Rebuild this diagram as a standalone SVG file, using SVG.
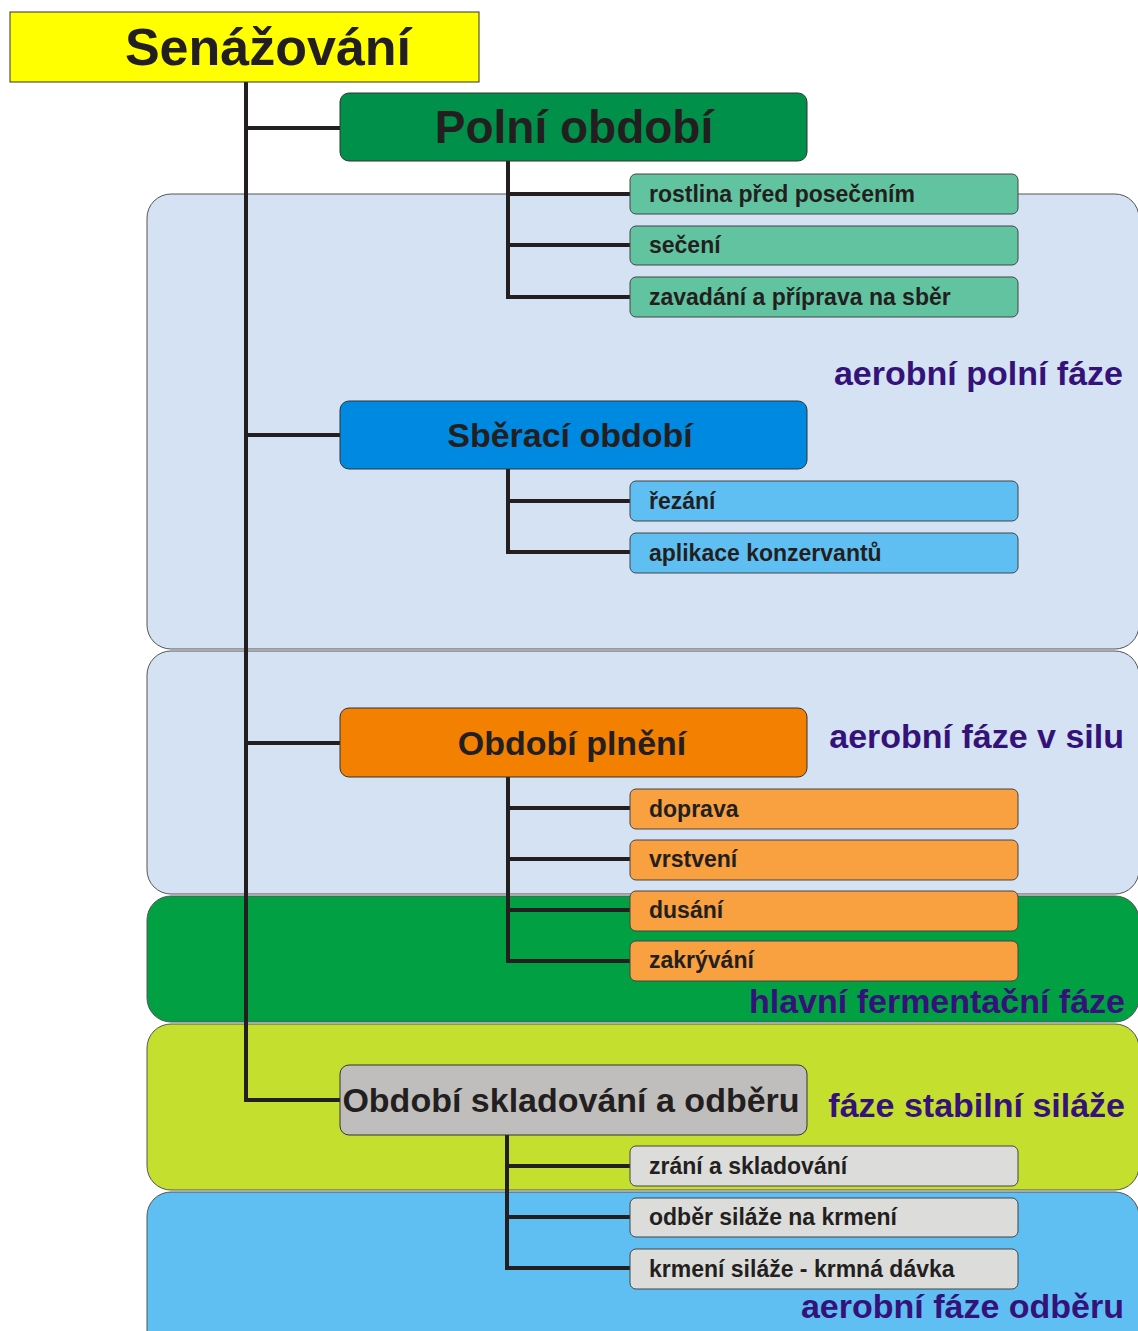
<svg xmlns="http://www.w3.org/2000/svg" width="1138" height="1331" viewBox="0 0 1138 1331">
<style>
text{font-family:"Liberation Sans",Arial,sans-serif;font-weight:bold;fill:#231f20}
.band{stroke:#555;stroke-width:1}
.main{stroke:#333;stroke-width:1}
.sub{stroke:#444;stroke-width:1}
.t1{font-size:46px;text-anchor:middle}
.t2{font-size:34px;text-anchor:middle}
.ts{font-size:23px}
.lab{font-size:34px;text-anchor:end;fill:#34127a}
.conn{fill:none;stroke:#231f20;stroke-width:4}
</style>
<rect width="1138" height="1331" fill="#fff"/>
<g id="bands">
<rect class="band" x="147" y="194" width="992" height="455" rx="24" fill="#d5e2f3"/>
<rect class="band" x="147" y="651" width="992" height="243" rx="24" fill="#d5e2f3"/>
<rect class="band" x="147" y="896" width="992" height="126" rx="24" fill="#00a043"/>
<rect class="band" x="147" y="1024" width="992" height="166" rx="24" fill="#c5df2e"/>
<rect class="band" x="147" y="1192" width="992" height="180" rx="24" fill="#5fbff2"/>
</g>
<g id="connectors">
<path class="conn" d="M246,82 V1100 H340 M246,128 H340 M246,435 H340 M246,743 H340"/>
<path class="conn" d="M508,161 V297 H630 M508,194 H630 M508,245 H630"/>
<path class="conn" d="M508,469 V552 H630 M508,501 H630"/>
<path class="conn" d="M508,777 V961 H630 M508,808 H630 M508,859 H630 M508,910 H630"/>
<path class="conn" d="M507,1135 V1268 H630 M507,1166 H630 M507,1217 H630"/>
</g>
<g id="root"><rect x="10" y="12" width="469" height="70" fill="#ffff00" stroke="#333" stroke-width="1"/><text x="268" y="65" font-size="52" text-anchor="middle">Senážování</text></g>
<g id="polni"><rect class="main" x="340" y="93" width="467" height="68" rx="9" fill="#00904a"/><text class="t1" x="574" y="143">Polní období</text></g>
<g id="polni1"><rect class="sub" x="630" y="174" width="388" height="40" rx="6" fill="#62c3a0"/><text class="ts" x="649" y="202">rostlina před posečením</text></g>
<g id="polni2"><rect class="sub" x="630" y="226" width="388" height="39" rx="6" fill="#62c3a0"/><text class="ts" x="649" y="253">sečení</text></g>
<g id="polni3"><rect class="sub" x="630" y="277" width="388" height="40" rx="6" fill="#62c3a0"/><text class="ts" x="649" y="305">zavadání a příprava na sběr</text></g>
<g id="sberaci"><rect class="main" x="340" y="401" width="467" height="68" rx="9" fill="#0089e0"/><text class="t2" x="570" y="447">Sběrací období</text></g>
<g id="sberaci1"><rect class="sub" x="630" y="481" width="388" height="40" rx="6" fill="#5fbff2"/><text class="ts" x="649" y="509">řezání</text></g>
<g id="sberaci2"><rect class="sub" x="630" y="533" width="388" height="40" rx="6" fill="#5fbff2"/><text class="ts" x="649" y="561">aplikace konzervantů</text></g>
<g id="plneni"><rect class="main" x="340" y="708" width="467" height="69" rx="9" fill="#f38000"/><text class="t2" x="572" y="755">Období plnění</text></g>
<g id="plneni1"><rect class="sub" x="630" y="789" width="388" height="40" rx="6" fill="#f9a040"/><text class="ts" x="649" y="817">doprava</text></g>
<g id="plneni2"><rect class="sub" x="630" y="840" width="388" height="40" rx="6" fill="#f9a040"/><text class="ts" x="649" y="867">vrstvení</text></g>
<g id="plneni3"><rect class="sub" x="630" y="891" width="388" height="40" rx="6" fill="#f9a040"/><text class="ts" x="649" y="918">dusání</text></g>
<g id="plneni4"><rect class="sub" x="630" y="941" width="388" height="40" rx="6" fill="#f9a040"/><text class="ts" x="649" y="968">zakrývání</text></g>
<g id="sklad"><rect class="main" x="340" y="1065" width="467" height="70" rx="9" fill="#bfbebc"/><text class="t2" x="571" y="1112">Období skladování a odběru</text></g>
<g id="sklad1"><rect class="sub" x="630" y="1146" width="388" height="40" rx="6" fill="#dcdcdb"/><text class="ts" x="649" y="1174">zrání a skladování</text></g>
<g id="sklad2"><rect class="sub" x="630" y="1198" width="388" height="39" rx="6" fill="#dcdcdb"/><text class="ts" x="649" y="1225">odběr siláže na krmení</text></g>
<g id="sklad3"><rect class="sub" x="630" y="1249" width="388" height="40" rx="6" fill="#dcdcdb"/><text class="ts" x="649" y="1277">krmení siláže - krmná dávka</text></g>
<g id="labels">
<text class="lab" x="1123" y="385">aerobní polní fáze</text>
<text class="lab" x="1124" y="748">aerobní fáze v silu</text>
<text class="lab" x="1125" y="1013">hlavní fermentační fáze</text>
<text class="lab" x="1125" y="1117">fáze stabilní siláže</text>
<text class="lab" x="1124" y="1318">aerobní fáze odběru</text>
</g>
</svg>
